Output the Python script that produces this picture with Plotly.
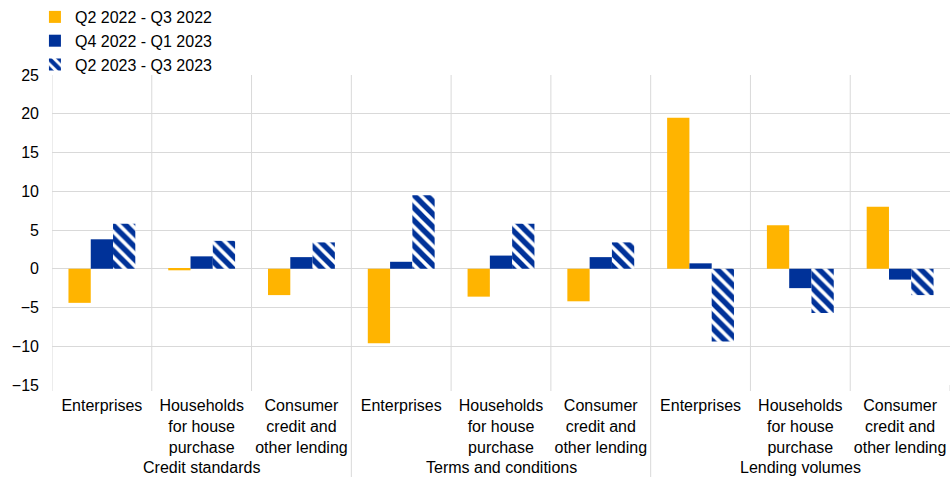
import plotly.graph_objects as go

# categories
group_names = ["Credit standards", "Terms and conditions", "Lending volumes"]
sub_names = [
    "Enterprises",
    "Households<br>for house<br>purchase",
    "Consumer<br>credit and<br>other lending",
]
subcats = sub_names * len(group_names)

# series values (net percentages)
q2_22_q3_22 = [-4.4, -0.2, -3.4, -9.6, -3.6, -4.2, 19.5, 5.6, 8.0]
q4_22_q1_23 = [3.8, 1.6, 1.5, 0.9, 1.7, 1.5, 0.7, -2.5, -1.4]
q2_23_q3_23 = [5.8, 3.6, 3.4, 9.5, 5.8, 3.4, -9.4, -5.7, -3.4]

YELLOW = "#FFB400"
BLUE = "#003299"
GRID = "#d9d9d9"

PLOT_H = 477 - 75 - 92
pos = list(range(len(subcats)))
n_sub = len(sub_names)

fig = go.Figure()
fig.add_trace(go.Bar(x=pos, y=q2_22_q3_22, name="Q2 2022 - Q3 2022",
                     marker=dict(color=YELLOW, line=dict(width=0))))
fig.add_trace(go.Bar(x=pos, y=q4_22_q1_23, name="Q4 2022 - Q1 2023",
                     marker=dict(color=BLUE, line=dict(width=0))))
fig.add_trace(go.Bar(x=pos, y=q2_23_q3_23, name="Q2 2023 - Q3 2023",
                     marker=dict(color="white", line=dict(width=0),
                                 pattern=dict(shape="\\", fgcolor=BLUE, bgcolor="white",
                                              fgopacity=1, size=9, solidity=0.6))))

# category boundaries: vertical grid lines, short ticks, and long group dividers
for i in range(len(subcats) + 1):
    xb = i - 0.5
    if i < len(subcats):
        fig.add_shape(type="line", xref="x", yref="paper", x0=xb, x1=xb, y0=0, y1=1,
                      line=dict(color=GRID, width=1), layer="below")
    if i % n_sub == 0 and 0 < i < len(subcats):
        y_end = -92 / PLOT_H
    else:
        y_end = -6 / PLOT_H
    fig.add_shape(type="line", xref="x", yref="paper", x0=xb, x1=xb, y0=0, y1=y_end,
                  line=dict(color=GRID, width=1))

# group labels
for g, name in enumerate(group_names):
    fig.add_annotation(x=g * n_sub + (n_sub - 1) / 2, y=-(467 - 385) / PLOT_H,
                       xref="x", yref="paper", text=name, showarrow=False,
                       xanchor="center", yanchor="middle", font=dict(size=16))

fig.update_layout(
    width=950,
    height=477,
    margin=dict(l=52, r=0, t=75, b=92, autoexpand=False),
    paper_bgcolor="white",
    plot_bgcolor="white",
    font=dict(family="Liberation Sans, Arial, sans-serif", size=16, color="#000000"),
    barmode="group",
    bargap=0.33,
    bargroupgap=0,
    showlegend=True,
    legend=dict(x=-0.019, y=1.026, xref="paper", yref="container",
                xanchor="left", yanchor="top",
                bgcolor="rgba(0,0,0,0)", font=dict(size=16), itemwidth=30,
                tracegroupgap=0, traceorder="normal"),
)

fig.update_xaxes(
    range=[-0.5, len(subcats) - 0.5],
    tickmode="array",
    tickvals=pos,
    ticktext=subcats,
    tickangle=0,
    showgrid=False,
    zeroline=False,
    ticks="",
    showline=False,
    ticklabelstandoff=9,
    tickfont=dict(size=16),
)
fig.update_yaxes(
    range=[-15, 25],
    dtick=5,
    showgrid=True,
    gridcolor=GRID,
    gridwidth=1,
    zeroline=True,
    zerolinecolor=GRID,
    zerolinewidth=1,
    showline=False,
    ticks="",
    ticklabelstandoff=12,
    tickfont=dict(size=16),
)

fig.write_html("out.html", config={"displayModeBar": False},
               post_script="document.body.style.margin='0px';")
